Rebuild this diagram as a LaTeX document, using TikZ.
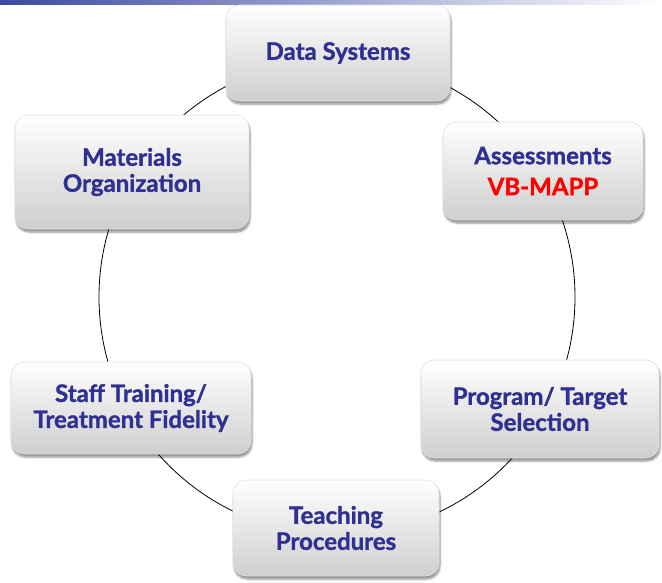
\documentclass[tikz,border=0pt]{standalone}
\usepackage{fontspec}
\setmainfont{Lato}[BoldFeatures={FakeBold=1.3}]
\usetikzlibrary{shadows.blur}

\definecolor{stageblue}{RGB}{46,49,146}
\definecolor{barblue}{RGB}{60,74,160}

\tikzset{
  stage/.style={rounded corners=13pt, draw=gray!25, line width=0.6pt,
    top color=white, bottom color=gray!38, align=center,
    text=stageblue, font=\fontsize{24}{26}\selectfont\bfseries,
    blur shadow={shadow xshift=1pt, shadow yshift=-3pt,
      shadow blur steps=6, shadow opacity=45}},
  ring/.style={line width=0.8pt, black}
}

\begin{document}
\begin{tikzpicture}[x=1pt,y=-1pt]
  \useasboundingbox (0,0) rectangle (662,582);
  % bar along the top edge
  \shade[left color=barblue, right color=white] (0,0) rectangle (662,4);

  % the cycle behind the boxes
  \coordinate (hub) at (337,297);
  \draw[ring] (hub) circle (238);

  \node[stage, minimum width=224, minimum height=96] (data) at (338,53) {Data Systems};
  \node[stage, minimum width=200, minimum height=98] (assess) at (543,171)
    {Assessments\\[5pt]\textcolor{red}{VB-MAPP}};
  \node[stage, minimum width=238, minimum height=98] (prog) at (540,409)
    {Program/ Target\\Selection};
  \node[stage, minimum width=206, minimum height=96] (teach) at (336,528)
    {Teaching\\Procedures};
  \node[stage, minimum width=240, minimum height=92] (staff) at (131,408)
    {Staff Training/\\Treatment Fidelity};
  \node[stage, minimum width=234, minimum height=114] (mater) at (132,172)
    {Materials\\Organization};
\end{tikzpicture}
\end{document}
